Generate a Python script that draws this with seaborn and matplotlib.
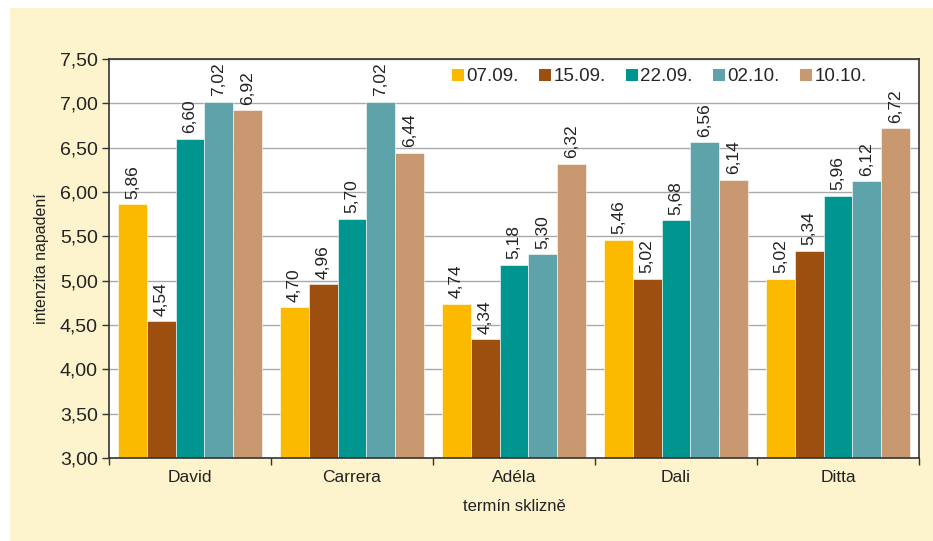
import matplotlib
matplotlib.use("Agg")
import matplotlib.pyplot as plt
import seaborn as sns
import pandas as pd
from matplotlib.patches import Rectangle, Patch

varieties = ["David", "Carrera", "Adéla", "Dali", "Ditta"]
dates = ["07.09.", "15.09.", "22.09.", "02.10.", "10.10."]
v_0709 = [5.86, 4.70, 4.74, 5.46, 5.02]
v_1509 = [4.54, 4.96, 4.34, 5.02, 5.34]
v_2209 = [6.60, 5.70, 5.18, 5.68, 5.96]
v_0210 = [7.02, 7.02, 5.30, 6.56, 6.12]
v_1010 = [6.92, 6.44, 6.32, 6.14, 6.72]
colors = ["#FBBA00", "#9C4F0F", "#00968F", "#5FA3AA", "#C89870"]
yticks = [3.0, 3.5, 4.0, 4.5, 5.0, 5.5, 6.0, 6.5, 7.0, 7.5]

series = [v_0709, v_1509, v_2209, v_0210, v_1010]
rows = []
for d, vals in zip(dates, series):
    for v, val in zip(varieties, vals):
        rows.append({"odruda": v, "termin": d, "hodnota": val})
df = pd.DataFrame(rows)

sns.set_theme(style="white")
plt.rcParams["font.family"] = ["Liberation Sans", "DejaVu Sans"]

fig = plt.figure(figsize=(9.33, 5.41), dpi=100)
fig.patch.set_facecolor("white")
fig.patches.append(Rectangle((10 / 933, 0), 1, 1 - 8 / 541, transform=fig.transFigure,
                             facecolor="#FDF3CC", edgecolor="none", zorder=-10))
ax = fig.add_axes([109 / 933, 1 - 458 / 541, (919 - 109) / 933, (458 - 59) / 541])
ax.set_facecolor("white")

sns.barplot(data=df, x="odruda", y="hodnota", hue="termin", hue_order=dates,
            order=varieties, palette=colors, saturation=1, width=0.89, ax=ax,
            edgecolor="white", linewidth=0.4, legend=False)

for cont in ax.containers:
    ax.bar_label(cont, labels=[f"{b.get_height():.2f}".replace(".", ",") for b in cont],
                 rotation=90, padding=4, fontsize=12.5, color="#222222")

ax.set_ylim(3.0, 7.5)
ax.set_xlim(-0.5, 4.5)
ax.set_yticks(yticks)
ax.set_yticklabels([f"{t:.2f}".replace(".", ",") for t in yticks], fontsize=14, color="#222222")
ax.yaxis.grid(True, color="#AAAAAA", linewidth=1)
ax.set_axisbelow(True)
ax.tick_params(axis="x", which="major", length=0, labelsize=12.5, pad=9, labelcolor="#222222")
ax.set_xticks([-0.5, 0.5, 1.5, 2.5, 3.5, 4.5], minor=True)
ax.tick_params(axis="x", which="minor", length=5, width=1, color="#333333", bottom=True)
ax.tick_params(axis="y", which="major", length=5, width=1, color="#333333", left=True, pad=3)
for s in ax.spines.values():
    s.set_color("#333333")
    s.set_linewidth(1.2)

ax.set_xlabel("termín sklizně", fontsize=12, color="#222222", labelpad=10)
ax.set_ylabel("intenzita napadení", fontsize=11.5, color="#222222", labelpad=8)

handles = [Patch(facecolor=c, edgecolor="none") for c in colors]
ax.legend(handles, dates, loc="upper right", bbox_to_anchor=(0.947, 1.0), ncol=5,
          frameon=False, fontsize=13.5, handlelength=0.6, handleheight=0.6,
          handletextpad=0.15, columnspacing=1.1, borderaxespad=0.1)

fig.savefig("out.png", dpi=100)
